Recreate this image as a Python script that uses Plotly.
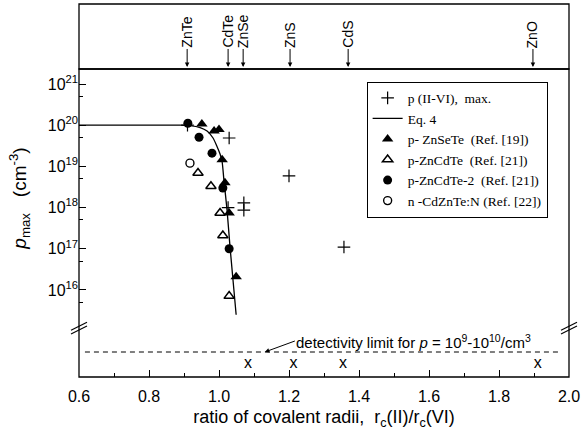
import plotly.graph_objects as go

# ---------------- data ----------------
compounds = ["ZnTe", "CdTe", "ZnSe", "ZnS", "CdS", "ZnO"]
compound_x = [0.909, 1.026, 1.069, 1.203, 1.369, 1.897]

plus_x = [0.91, 1.029, 1.026, 1.071, 1.071, 1.20, 1.357]
plus_p = [1.0e20, 4.9e19, 1.0e18, 1.3e18, 8.7e17, 5.9e18, 1.1e17]

eq4_x = [0.600, 0.889, 0.917, 0.946, 0.966, 0.983, 0.994, 1.003, 1.009, 1.014, 1.023, 1.031, 1.040, 1.049]
eq4_p = [1.0e20, 1.0e20, 9.8e19, 8.8e19, 7.2e19, 4.9e19, 3.1e19, 2.0e19, 1.28e19, 4.7e18, 8.7e17, 1.24e17, 1.75e16, 2.5e15]

znsete_x = [0.951, 0.986, 1.000, 1.009, 1.017, 1.029, 1.049]
znsete_p = [1.07e20, 7.2e19, 7.9e19, 1.45e19, 4.0e18, 7.4e17, 2.1e16]

zncdte_x = [0.940, 0.977, 1.003, 1.011, 1.029]
zncdte_p = [6.9e18, 3.3e18, 7.4e17, 2.1e17, 7.1e15]

zncdte2_x = [0.911, 0.943, 0.980, 1.011, 1.029]
zncdte2_p = [1.12e20, 5.1e19, 2.1e19, 3.0e18, 1.0e17]

cdznten_x = [0.917]
cdznten_p = [1.2e19]

nodoping_x = [1.083, 1.213, 1.354, 1.911]
nodoping_p = [3.2e9, 3.2e9, 3.2e9, 3.2e9]

detect_x = [0.617, 1.969]
detect_p = [1.0e10, 1.0e10]

x_tickvals = [0.6, 0.8, 1.0, 1.2, 1.4, 1.6, 1.8, 2.0]
x_ticktext = ["0.6", "0.8", "1.0", "1.2", "1.4", "1.6", "1.8", "2.0"]
y_tickvals = [1e16, 1e17, 1e18, 1e19, 1e20, 1e21]
y_ticktext = ["10<sup>16</sup>", "10<sup>17</sup>", "10<sup>18</sup>",
              "10<sup>19</sup>", "10<sup>20</sup>", "10<sup>21</sup>"]
y_minorvals = [5e15, 5e16, 5e17, 5e18, 5e19, 5e20]

# ---------------- figure ----------------
SANS = "Liberation Sans, Arial, sans-serif"
SERIF = "Liberation Serif, Times New Roman, serif"

fig = go.Figure()

fig.add_trace(go.Scatter(x=plus_x, y=plus_p, mode="markers", name="p (II-VI),&nbsp; max.",
                         marker=dict(symbol="cross-thin", size=9, line=dict(width=1.2, color="black"), color="black")))
fig.add_trace(go.Scatter(x=eq4_x, y=eq4_p, mode="lines", name="Eq. 4",
                         line=dict(color="black", width=1.3, shape="spline", smoothing=0.6)))
fig.add_trace(go.Scatter(x=znsete_x, y=znsete_p, mode="markers", name="p- ZnSeTe&nbsp; (Ref. [19])",
                         marker=dict(symbol="triangle-up", size=10, color="black")))
fig.add_trace(go.Scatter(x=zncdte_x, y=zncdte_p, mode="markers", name="p-ZnCdTe&nbsp; (Ref. [21])",
                         marker=dict(symbol="triangle-up-open", size=9, color="black", line=dict(width=1.5, color="black"))))
fig.add_trace(go.Scatter(x=zncdte2_x, y=zncdte2_p, mode="markers", name="p-ZnCdTe-2&nbsp; (Ref. [21])",
                         marker=dict(symbol="circle", size=9, color="black")))
fig.add_trace(go.Scatter(x=cdznten_x, y=cdznten_p, mode="markers", name="n -CdZnTe:N (Ref. [22])",
                         marker=dict(symbol="circle-open", size=8, color="black", line=dict(width=1.4, color="black"))))

# lower (below break) panel
fig.add_trace(go.Scatter(x=detect_x, y=detect_p, mode="lines", yaxis="y2", showlegend=False,
                         line=dict(color="black", width=1, dash="5px,4px")))
fig.add_trace(go.Scatter(x=nodoping_x, y=nodoping_p, mode="text", yaxis="y2", showlegend=False,
                         text=["x"] * len(nodoping_x), textfont=dict(family=SANS, size=16, color="black")))

Y_BREAK = 0.134
Y_TOP = 0.8257

fig.update_layout(
    template="none",
    width=581, height=430,
    margin=dict(l=79, r=12, t=4, b=53),
    paper_bgcolor="white", plot_bgcolor="white",
    font=dict(family=SANS, color="black"),
    xaxis=dict(range=[0.6, 2.0], anchor="y2", automargin=False,
               tickmode="array", tickvals=x_tickvals, ticktext=x_ticktext,
               ticks="inside", ticklen=7, tickwidth=1, tickcolor="black", ticklabelstandoff=8,
               minor=dict(tickmode="linear", tick0=0.6, dtick=0.1, ticks="inside", ticklen=4, tickcolor="black"),
               showgrid=False, zeroline=False, showline=False,
               tickfont=dict(size=16, family=SANS),
               title=dict(text="ratio of covalent radii,&nbsp; r<sub>c</sub>(II)/r<sub>c</sub>(VI)",
                          font=dict(size=18, family=SANS), standoff=12)),
    yaxis=dict(type="log", range=[15.1, 21.365], domain=[Y_BREAK, Y_TOP], anchor="x", automargin=False,
               tickmode="array", tickvals=y_tickvals, ticktext=y_ticktext,
               ticks="inside", ticklen=7, tickwidth=1, tickcolor="black",
               minor=dict(tickmode="array", tickvals=y_minorvals, ticks="inside", ticklen=4, tickcolor="black"),
               showgrid=False, zeroline=False, showline=False,
               tickfont=dict(size=16, family=SANS),
               title=dict(text="<i>p</i><sub>max</sub>&nbsp;&nbsp; (cm<sup>-3</sup>)",
                          font=dict(size=19, family=SANS), standoff=16)),
    yaxis2=dict(type="log", range=[9, 11], domain=[0, Y_BREAK], anchor="x", automargin=False,
                showticklabels=False, ticks="", showgrid=False, zeroline=False, showline=False),
    legend=dict(x=0.587, y=0.792, xanchor="left", yanchor="top",
                bordercolor="black", borderwidth=1, bgcolor="white",
                font=dict(family=SERIF, size=13.5, color="black"),
                itemwidth=30, tracegroupgap=0),
    showlegend=True,
)

shapes = []
# frame of main plot and top label panel
shapes.append(dict(type="rect", xref="paper", yref="paper", x0=0, x1=1, y0=0, y1=Y_TOP,
                   line=dict(color="black", width=1.3)))
shapes.append(dict(type="rect", xref="paper", yref="paper", x0=0, x1=1, y0=Y_TOP, y1=1,
                   line=dict(color="black", width=1.3)))
# axis-break marks (left and right)
for xa in (0, 1):
    for dy in (-1.8, 1.8):
        shapes.append(dict(type="line", xref="paper", yref="paper",
                           xsizemode="pixel", ysizemode="pixel",
                           xanchor=xa, yanchor=Y_BREAK - 0.003,
                           x0=-8, x1=8, y0=-4 + dy, y1=4 + dy,
                           line=dict(color="black", width=1.2)))
fig.update_layout(shapes=shapes)

annotations = []
for name, cx in zip(compounds, compound_x):
    annotations.append(dict(x=cx, xref="x", y=0.8311, yref="paper", text=name, textangle=-90,
                            showarrow=True, arrowhead=2, arrowsize=0.9, arrowwidth=1, arrowcolor="black",
                            ax=0, ay=-18, xanchor="left", yanchor="middle", borderpad=0,
                            font=dict(family=SANS, size=14, color="black")))
annotations.append(dict(x=1.131, xref="x", y=10, yref="y2",
                        text="detectivity limit for <i>p</i> = 10<sup>9</sup>-10<sup>10</sup>/cm<sup>3</sup>",
                        showarrow=True, arrowhead=2, arrowsize=0.9, arrowwidth=1, arrowcolor="black",
                        ax=30, ay=-11, xanchor="left", borderpad=0,
                        font=dict(family=SANS, size=15, color="black")))
fig.update_layout(annotations=annotations)

fig.write_html("out.html", config={"displayModeBar": False},
               post_script="document.body.style.margin='0';")
